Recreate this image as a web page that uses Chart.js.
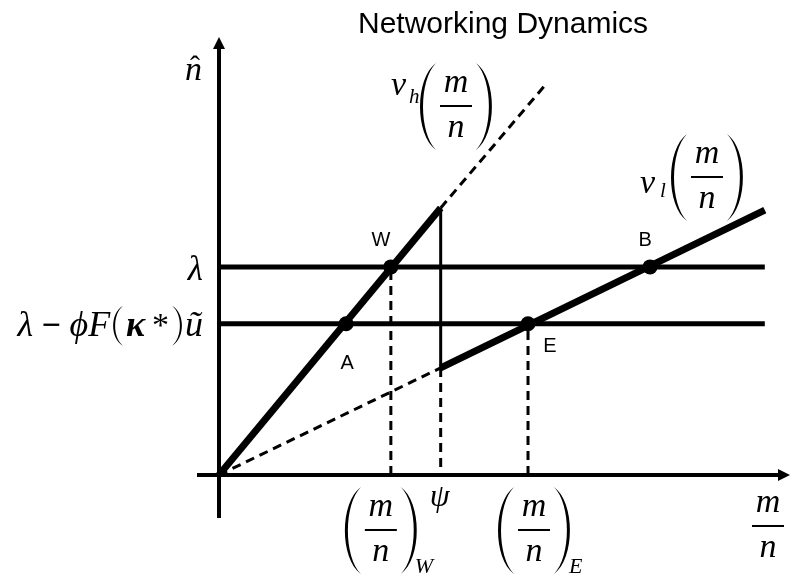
<!DOCTYPE html>
<html><head><meta charset="utf-8">
<script src="https://cdn.jsdelivr.net/npm/chart.js@4/dist/chart.umd.min.js"></script>
<style>html,body{margin:0;padding:0;background:#fff}#wrap{width:790px;height:575px}</style>
</head><body><div id="wrap"><canvas id="c" width="790" height="575"></canvas></div>
<script>
// ---- data (diagram units) ----
const titleText = 'Networking Dynamics';
const axisXRange = [-0.393, 10.2];
const axisYRange = [-0.984, 10.02];
const psi = 3.96;
const lambdaHigh = 4.76;
const lambdaLow = 3.46;
const vhSolidX = [0, 3.96];
const vhSolidY = [0, 6.11];
const vhDashX = [3.96, 5.86];
const vhDashY = [6.11, 8.97];
const vlSolidX = [3.96, 9.75];
const vlSolidY = [2.45, 6.06];
const vlDashX = [0, 3.96];
const vlDashY = [0, 2.45];
const psiSolidY = [6.11, 2.45];
const psiDashY = [2.45, 0];
const hLineX = [0, 9.75];
const pointNames = ['W', 'A', 'E', 'B'];
const pointX = [3.07, 2.27, 5.52, 7.70];
const pointY = [4.76, 3.46, 3.46, 4.76];

const pts = (xs, ys) => xs.map((x, i) => ({x, y: ys[i]}));
const K = '#000';
const SERIF = '"Liberation Serif", "Times New Roman", serif';
const SANS = '"Liberation Sans", Arial, sans-serif';

function seg(data, width, dash) {
  return {data, showLine: true, borderColor: K, borderWidth: width, borderDash: dash || [],
    pointRadius: 0, borderCapStyle: 'butt', fill: false};
}

const datasets = [
  seg(pts(hLineX, [lambdaHigh, lambdaHigh]), 5),
  seg(pts(hLineX, [lambdaLow, lambdaLow]), 5),
  seg(pts(vhSolidX, vhSolidY), 7),
  seg(pts(vhDashX, vhDashY), 3, [9, 6]),
  seg(pts(vlSolidX, vlSolidY), 7),
  seg(pts(vlDashX, vlDashY), 3, [9, 6]),
  seg(pts([psi, psi], psiSolidY), 3),
  seg(pts([psi, psi], psiDashY), 3, [9, 6]),
  seg(pts([pointX[0], pointX[0]], [0, pointY[0]]), 3, [9, 6]),
  seg(pts([pointX[2], pointX[2]], [0, pointY[2]]), 3, [9, 6]),
  {data: pts(pointX, pointY), showLine: false, pointRadius: 7.5, pointBackgroundColor: K,
   pointBorderWidth: 0, pointHoverRadius: 7.5}
];

// large thin delimiter (crescent shape)
function delim(ctx, tipX, top, H, dir, wo, wi) {
  const b = top + H;
  wo = wo || 16; wi = wi || 13;
  ctx.beginPath();
  ctx.moveTo(tipX, top);
  ctx.bezierCurveTo(tipX + dir * wo * 1.33, top + H * 0.18, tipX + dir * wo * 1.33, b - H * 0.18, tipX, b);
  ctx.bezierCurveTo(tipX + dir * wi * 1.33, b - H * 0.2, tipX + dir * wi * 1.33, top + H * 0.2, tipX, top);
  ctx.closePath();
  ctx.fill();
}
function fracGroup(ctx, cx, barY, withParens) {
  ctx.save();
  ctx.fillStyle = K;
  ctx.font = 'italic 34px ' + SERIF;
  ctx.textAlign = 'center';
  ctx.textBaseline = 'alphabetic';
  ctx.fillText('m', cx, barY - 14);
  ctx.fillText('n', cx, barY + 31);
  ctx.fillRect(cx - 16, barY - 1, 32, 2);
  if (withParens) {
    delim(ctx, cx - 20, barY - 43, 87, -1);
    delim(ctx, cx + 20, barY - 43, 87, 1);
  }
  ctx.restore();
}

const diagram = {
  id: 'diagram',
  beforeDraw(chart) {
    const c = chart.ctx;
    c.save(); c.fillStyle = '#fff'; c.fillRect(0, 0, chart.width, chart.height); c.restore();
  },
  beforeDatasetsDraw(chart) {
    const c = chart.ctx, xs = chart.scales.x, ys = chart.scales.y;
    const x0 = xs.getPixelForValue(0), y0 = ys.getPixelForValue(0);
    const xl = xs.getPixelForValue(axisXRange[0]), xr = xs.getPixelForValue(axisXRange[1]);
    const yb = ys.getPixelForValue(axisYRange[0]), yt = ys.getPixelForValue(axisYRange[1]);
    c.save();
    c.strokeStyle = K; c.fillStyle = K; c.lineWidth = 4; c.lineCap = 'butt';
    c.beginPath(); c.moveTo(x0, yb); c.lineTo(x0, yt + 10); c.stroke();
    c.beginPath(); c.moveTo(x0, yt); c.lineTo(x0 - 6, yt + 12); c.lineTo(x0 + 6, yt + 12); c.closePath(); c.fill();
    c.beginPath(); c.moveTo(xl, y0); c.lineTo(xr - 10, y0); c.stroke();
    c.beginPath(); c.moveTo(xr, y0); c.lineTo(xr - 12, y0 - 6); c.lineTo(xr - 12, y0 + 6); c.closePath(); c.fill();
    c.restore();
  },
  afterDraw(chart) {
    const c = chart.ctx, xs = chart.scales.x, ys = chart.scales.y;
    const x0 = xs.getPixelForValue(0), y0 = ys.getPixelForValue(0);
    c.save();
    c.fillStyle = K;
    c.textBaseline = 'alphabetic';
    // title
    c.font = '30px ' + SANS;
    c.textAlign = 'left';
    c.fillText(titleText, 358, 33);

    // point labels
    c.font = '20px ' + SANS;
    c.textAlign = 'center';
    const offs = [[-10, -21], [1, 45], [22, 28], [-5, -21]];
    pointNames.forEach((n, i) => {
      const px = xs.getPixelForValue(pointX[i]), py = ys.getPixelForValue(pointY[i]);
      c.fillText(n, px + offs[i][0], py + offs[i][1]);
    });

    // y-axis label n-hat
    c.font = 'italic 34px ' + SERIF;
    c.textAlign = 'right';
    c.fillText('n', x0 - 17, 80);
    c.textAlign = 'center';
    c.font = '30px ' + SERIF;
    c.fillText('\u02C6', x0 - 24, 76);

    // lambda
    c.font = 'italic 35px ' + SERIF;
    c.textAlign = 'right';
    c.fillText('\u03BB', x0 - 16, ys.getPixelForValue(lambdaHigh) + 13);

    // lambda - phi F(kappa*) u~   ('D(' / 'D)' = drawn delimiters)
    const parts = [
      ['\u03BB', 'italic 36px ' + SERIF],
      [' \u2212 ', 'bold 34px ' + SERIF],
      ['\u03D5F', 'italic 36px ' + SERIF],
      ['D(', null, 16],
      ['\u03BA', 'italic bold 36px ' + SERIF],
      ['\u2009*', '34px ' + SERIF],
      ['D)', null, 16],
      ['\u0169', 'italic 36px ' + SERIF]
    ];
    const widthOf = p => { if (!p[1]) return p[2]; c.font = p[1]; return c.measureText(p[0]).width; };
    let total = 0;
    parts.forEach(p => { total += widthOf(p); });
    let cx = x0 - 16 - total;
    const by = ys.getPixelForValue(lambdaLow) + 12;
    c.textAlign = 'left';
    parts.forEach(p => {
      const w = widthOf(p);
      if (!p[1]) {
        const left = p[0] === 'D(';
        delim(c, left ? cx + w - 3 : cx + 3, by - 30, 40, left ? -1 : 1, 10, 8);
      } else {
        c.font = p[1];
        c.fillText(p[0], cx, by);
      }
      cx += w;
    });

    // v_h label
    c.font = 'italic 34px ' + SERIF;
    c.textAlign = 'left';
    c.fillText('\u03BD', 391, 95);
    c.font = 'italic 21px ' + SERIF;
    c.fillText('h', 409, 103);
    fracGroup(c, 456, 106, true);

    // v_l label
    c.font = 'italic 34px ' + SERIF;
    c.fillText('\u03BD', 640, 193);
    c.font = 'italic 21px ' + SERIF;
    c.fillText('l', 660, 197);
    fracGroup(c, 707, 177, true);

    // x-axis labels
    const wx = xs.getPixelForValue(pointX[0]) - 10;
    fracGroup(c, wx, y0 + 55, true);
    c.font = 'italic 22px ' + SERIF;
    c.textAlign = 'left';
    c.fillText('W', wx + 34, y0 + 98);
    const ex = xs.getPixelForValue(pointX[2]) + 6;
    fracGroup(c, ex, y0 + 55, true);
    c.fillText('E', ex + 35, y0 + 98);
    c.font = 'italic 32px ' + SERIF;
    c.textAlign = 'center';
    c.fillText('\u03C8', xs.getPixelForValue(psi) - 1, y0 + 31);
    fracGroup(c, 768, y0 + 51, false);
    c.restore();
  }
};

new Chart(document.getElementById('c'), {
  type: 'scatter',
  data: {datasets},
  options: {
    responsive: false,
    animation: false,
    devicePixelRatio: 1,
    layout: {autoPadding: false, padding: {left: 197, right: 0, top: 37, bottom: 57}},
    scales: {
      x: {type: 'linear', min: axisXRange[0], max: axisXRange[1], display: false},
      y: {type: 'linear', min: axisYRange[0], max: axisYRange[1], display: false}
    },
    plugins: {legend: {display: false}, tooltip: {enabled: false}, title: {display: false}},
    events: []
  },
  plugins: [diagram]
});
</script>
</body></html>
